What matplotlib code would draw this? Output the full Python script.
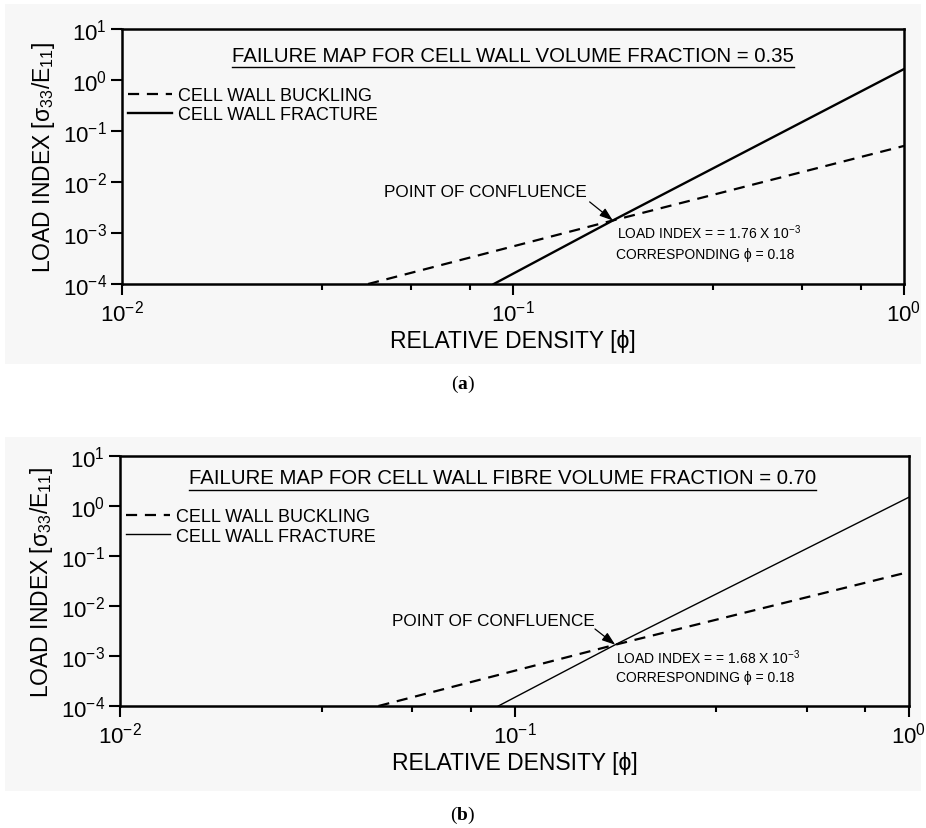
import matplotlib
matplotlib.use('Agg')
import matplotlib.pyplot as plt
from matplotlib.patches import Rectangle
from matplotlib.ticker import FixedLocator, NullFormatter

plt.rcParams['font.family'] = ['Liberation Sans', 'DejaVu Sans']
plt.rcParams['mathtext.fontset'] = 'custom'
plt.rcParams['mathtext.rm'] = 'Liberation Sans'
plt.rcParams['mathtext.it'] = 'Liberation Sans:italic'
plt.rcParams['mathtext.bf'] = 'Liberation Serif:bold'
plt.rcParams['axes.unicode_minus'] = False

# ---------------------------------------------------------------------------
# Failure-map lines (relative density vs load index), both panels
# ---------------------------------------------------------------------------
phi_buckle_a = [0.0426, 0.18, 1.0]
load_buckle_a = [1e-4, 1.76e-3, 0.051]
phi_fracture_a = [0.0893, 0.18, 1.0]
load_fracture_a = [1e-4, 1.76e-3, 1.64]

phi_buckle_b = [0.0452, 0.18, 1.0]
load_buckle_b = [1e-4, 1.68e-3, 0.048]
phi_fracture_b = [0.091, 0.18, 1.0]
load_fracture_b = [1e-4, 1.68e-3, 1.5]

confluence_a = (0.18, 1.76e-3)
confluence_b = (0.18, 1.68e-3)

titles = ['FAILURE MAP FOR CELL WALL VOLUME FRACTION = 0.35',
          'FAILURE MAP FOR CELL WALL FIBRE VOLUME FRACTION = 0.70']
load_labels = ['LOAD INDEX = = 1.76 X 10$^{-3}$',
               'LOAD INDEX = = 1.68 X 10$^{-3}$']
phi_label = 'CORRESPONDING ϕ = 0.18'

W, H = 926, 829
BG = '#f7f7f7'

fig = plt.figure(figsize=(W / 100, H / 100), dpi=100)
fig.patch.set_facecolor('white')


def px_axes(x0, y0, x1, y1):
    """Axes from pixel box (top-left origin)."""
    return fig.add_axes([x0 / W, 1 - y1 / H, (x1 - x0) / W, (y1 - y0) / H])


# light grey backing behind each panel
for (y0, y1) in [(5, 365), (438, 792)]:
    fig.patches.append(Rectangle((5 / W, 1 - y1 / H), 916 / W, (y1 - y0) / H,
                                 transform=fig.transFigure, facecolor=BG,
                                 edgecolor='none', zorder=-5))

ax_a = px_axes(122, 30, 904, 285)
ax_b = px_axes(120, 457, 909, 707)

minor_x = [0.0325, 0.055, 0.0775, 0.325, 0.55, 0.775]


def style_axes(ax):
    ax.set_xscale('log')
    ax.set_yscale('log')
    ax.set_xlim(1e-2, 1.0)
    ax.set_ylim(1e-4, 10)
    ax.set_facecolor(BG)
    ax.set_yticks([1e-4, 1e-3, 1e-2, 1e-1, 1, 10])
    ax.set_xticks([1e-2, 1e-1, 1])
    ax.xaxis.set_minor_locator(FixedLocator(minor_x))
    ax.xaxis.set_minor_formatter(NullFormatter())
    ax.yaxis.set_minor_locator(FixedLocator([]))
    for s in ax.spines.values():
        s.set_linewidth(1.8)
    ax.tick_params(which='major', direction='out', length=8, width=1.5,
                   labelsize=16, top=False, right=False)
    ax.tick_params(which='minor', direction='out', length=4.5, width=1.5,
                   top=False, right=False)
    ax.tick_params(axis='x', which='major', pad=3)
    ax.tick_params(axis='y', which='major', pad=3)
    ax.set_xlabel('RELATIVE DENSITY [ϕ]', fontsize=16.5, labelpad=3)
    ax.set_ylabel('LOAD INDEX [σ$_{33}$/E$_{11}$]', fontsize=16.5, labelpad=4)


def draw_panel(ax, phi_b, load_b, phi_f, load_f, frac_lw, conf, title,
               title_x, title_y, title_fs, leg_y, conf_xy, tail_xy, li_xy,
               cp_xy, load_text):
    style_axes(ax)
    ax.plot(phi_b, load_b, color='black', lw=1.6, ls=(0, (5, 3.5)),
            label='CELL WALL BUCKLING')
    ax.plot(phi_f, load_f, color='black', lw=frac_lw, ls='-',
            label='CELL WALL FRACTURE')
    ax.legend(loc='upper left', bbox_to_anchor=(0.008, leg_y), frameon=False,
              fontsize=13, handlelength=2.4, handletextpad=0.35,
              labelspacing=0.12, borderpad=0, borderaxespad=0)
    t = ax.text(title_x, title_y, title, transform=ax.transAxes,
                ha='center', va='center', fontsize=title_fs)
    ax.text(conf_xy[0], conf_xy[1], 'POINT OF CONFLUENCE',
            transform=ax.transAxes, ha='left', va='center', fontsize=12.3)
    ax.annotate('', xy=conf, xycoords='data', xytext=tail_xy,
                textcoords='axes fraction',
                arrowprops=dict(arrowstyle='-|>,head_length=0.8,head_width=0.28',
                                color='black', lw=0.9, shrinkA=0, shrinkB=0))
    ax.text(li_xy[0], li_xy[1], load_text, transform=ax.transAxes,
            ha='left', va='center', fontsize=10)
    ax.text(cp_xy[0], cp_xy[1], phi_label, transform=ax.transAxes,
            ha='left', va='center', fontsize=10)
    return t


t_a = draw_panel(ax_a, phi_buckle_a, load_buckle_a, phi_fracture_a,
                 load_fracture_a, 1.7, confluence_a, titles[0],
                 0.5, 0.895, 14.7, 0.772, (0.335, 0.361), (0.598, 0.322),
                 (0.633, 0.204), (0.632, 0.118), load_labels[0])
t_b = draw_panel(ax_b, phi_buckle_b, load_buckle_b, phi_fracture_b,
                 load_fracture_b, 1.0, confluence_b, titles[1],
                 0.485, 0.912, 14.7, 0.79, (0.345, 0.34), (0.602, 0.308),
                 (0.629, 0.196), (0.629, 0.116), load_labels[1])

# underline the two panel titles
fig.canvas.draw()
inv = fig.transFigure.inverted()
for t in (t_a, t_b):
    bb = t.get_window_extent()
    (x0, y0), (x1, _) = inv.transform([(bb.x0, bb.y0 - 2), (bb.x1, bb.y0)])
    fig.add_artist(plt.Line2D([x0, x1], [y0, y0], transform=fig.transFigure,
                              color='black', lw=1.0))

fig.text(463 / W, 1 - 384 / H, r'($\mathbf{a}$)', ha='center', va='center',
         fontsize=14, family='Liberation Serif')
fig.text(463 / W, 1 - 815 / H, r'($\mathbf{b}$)', ha='center', va='center',
         fontsize=14, family='Liberation Serif')

fig.savefig('out.png', dpi=100)
